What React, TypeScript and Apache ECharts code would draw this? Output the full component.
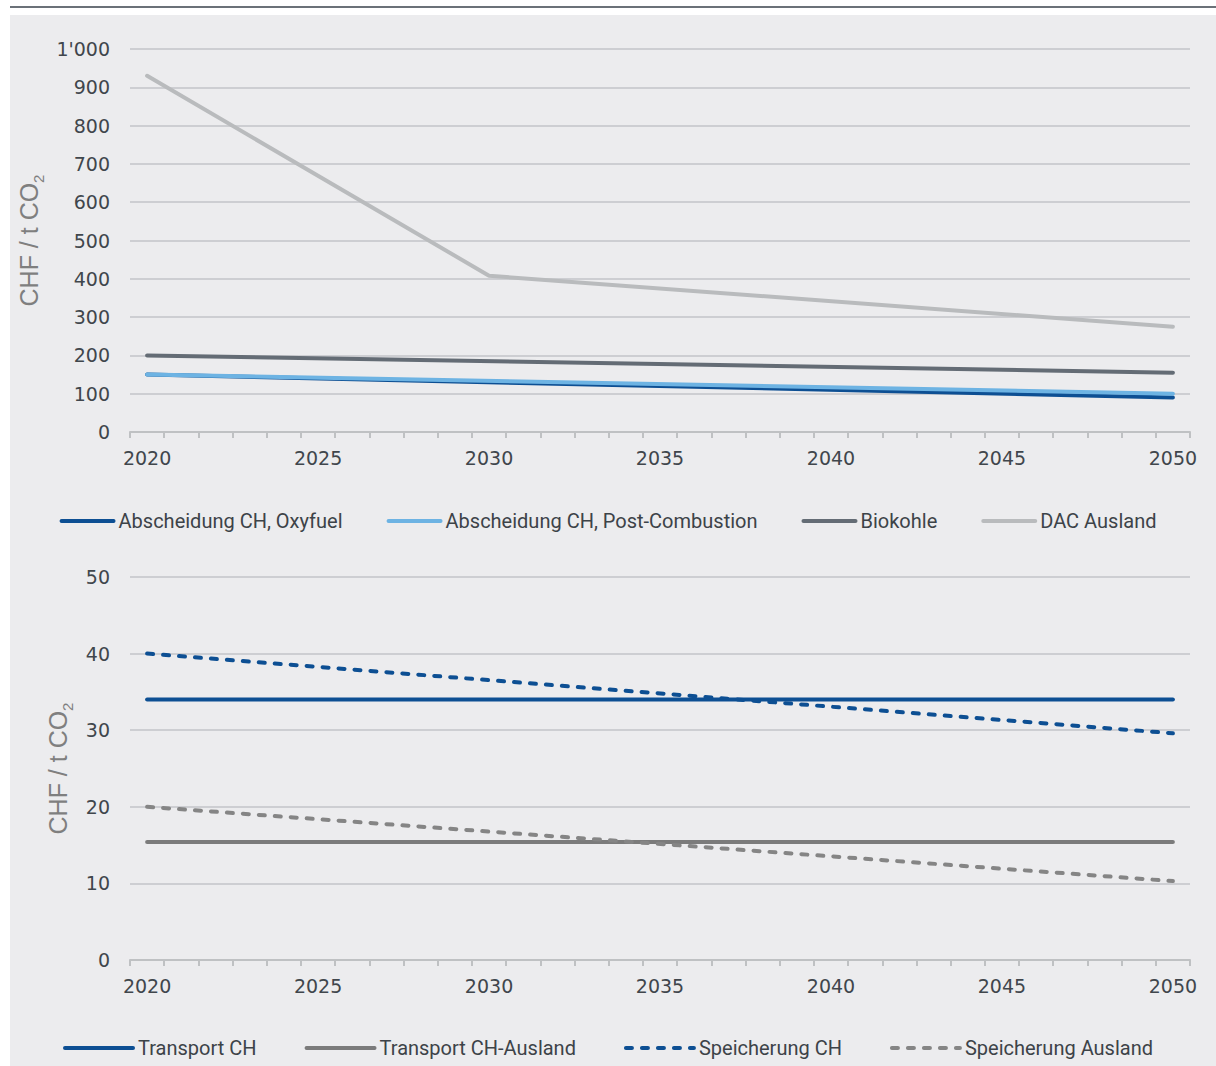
import React, { useEffect, useRef } from "react";
import * as echarts from "echarts";

const years = [
  "2020", "2021", "2022", "2023", "2024", "2025", "2026", "2027", "2028", "2029",
  "2030", "2031", "2032", "2033", "2034", "2035", "2036", "2037", "2038", "2039",
  "2040", "2041", "2042", "2043", "2044", "2045", "2046", "2047", "2048", "2049", "2050",
];

// Top chart (CHF / t CO2)
const oxyfuel: [string, number][] = [["2020", 150], ["2050", 90]];
const postCombustion: [string, number][] = [["2020", 150], ["2050", 100]];
const biokohle: [string, number][] = [["2020", 200], ["2050", 155]];
const dacAusland: [string, number][] = [["2020", 930], ["2030", 408], ["2050", 275]];

// Bottom chart (CHF / t CO2)
const transportCH: [string, number][] = [["2020", 34], ["2050", 34]];
const transportCHAusland: [string, number][] = [["2020", 15.4], ["2050", 15.4]];
const speicherungCH: [string, number][] = [["2020", 40], ["2050", 29.6]];
const speicherungAusland: [string, number][] = [["2020", 20], ["2050", 10.3]];

const topNames = ["Abscheidung CH, Oxyfuel", "Abscheidung CH, Post-Combustion", "Biokohle", "DAC Ausland"];
const bottomNames = ["Transport CH", "Transport CH-Ausland", "Speicherung CH", "Speicherung Ausland"];

const C_DARKBLUE = "#0d4f93";
const C_LIGHTBLUE = "#6db3e3";
const C_DARKGRAY = "#646c75";
const C_LIGHTGRAY = "#b9bbbd";
const C_GRAY = "#7b7b7b";
const C_GRAY_DASH = "#858585";

const TICK_FONT = "'DejaVu Sans', sans-serif";
const LEGEND_FONT = "Roboto, 'Liberation Sans', sans-serif";
const NAME_FONT = "'Liberation Sans', Arial, sans-serif";
const TEXT_COLOR = "#40464c";
const GRID_COLOR = "#c3c5c8";
const AXIS_COLOR = "#bfc1c3";

function xAxisFor(gridIndex: number) {
  return {
    type: "category",
    gridIndex,
    data: years,
    boundaryGap: true,
    axisLine: { show: true, lineStyle: { color: AXIS_COLOR, width: 2 } },
    axisTick: { show: true, interval: 0, length: 6, lineStyle: { color: AXIS_COLOR, width: 2 } },
    axisLabel: { interval: 4, margin: 16, color: TEXT_COLOR, fontFamily: TICK_FONT, fontSize: 19 },
    splitLine: { show: false },
  };
}

function yAxisFor(gridIndex: number, max: number, interval: number, nameGap: number) {
  return {
    type: "value",
    gridIndex,
    min: 0,
    max,
    interval,
    name: "{m|CHF / t CO}{sub|2}",
    nameLocation: "middle",
    nameGap,
    nameTextStyle: {
      rich: {
        m: { fontFamily: NAME_FONT, fontSize: 25, color: "#7f7f7f", lineHeight: 34 },
        sub: { fontFamily: NAME_FONT, fontSize: 15, color: "#7f7f7f", lineHeight: 15, verticalAlign: "bottom" },
      },
    },
    axisLine: { show: false },
    axisTick: { show: false },
    axisLabel: {
      margin: 20,
      color: TEXT_COLOR,
      fontFamily: TICK_FONT,
      fontSize: 19,
      formatter: (v: number) => (v >= 1000 ? `${Math.floor(v / 1000)}'${String(v % 1000).padStart(3, "0")}` : String(v)),
    },
    splitLine: { show: true, lineStyle: { color: GRID_COLOR, width: 1.5 } },
  };
}

function lineSeries(name: string, data: [string, number][], color: string, idx: number, dashed = false) {
  return {
    type: "line",
    name,
    data,
    xAxisIndex: idx,
    yAxisIndex: idx,
    connectNulls: true,
    symbol: "none",
    showSymbol: false,
    lineStyle: {
      color,
      width: 4,
      cap: "round",
      type: dashed ? [6, 10] : "solid",
    },
    itemStyle: { color },
    emphasis: { disabled: true },
  };
}

export default function App() {
  const ref = useRef<HTMLDivElement>(null);

  useEffect(() => {
    document.body.style.margin = "0";
    if (!ref.current) return;
    const chart = echarts.init(ref.current, undefined, { renderer: "svg" });
    const legendText = { fontFamily: LEGEND_FONT, fontSize: 20, color: "#3d4348", lineHeight: 24 };
    const legendCommon = {
      left: "center",
      itemHeight: 14,
      textStyle: legendText,
      selectedMode: false,
      itemStyle: { opacity: 0 },
      lineStyle: { width: 4, cap: "round" },
    };
    chart.setOption({
      animation: false,
      backgroundColor: "transparent",
      grid: [
        { left: 130, right: 26, top: 49, height: 383 },
        { left: 130, right: 26, top: 577, height: 383 },
      ],
      xAxis: [xAxisFor(0), xAxisFor(1)],
      yAxis: [yAxisFor(0, 1000, 100, 77), yAxisFor(1, 50, 10, 50)],
      legend: [
        { ...legendCommon, data: topNames, top: 504, itemWidth: 52, itemGap: 44 },
        { ...legendCommon, data: bottomNames, top: 1031, itemWidth: 68, itemGap: 48 },
      ],
      series: [
        lineSeries(topNames[0], oxyfuel, C_DARKBLUE, 0),
        lineSeries(topNames[1], postCombustion, C_LIGHTBLUE, 0),
        lineSeries(topNames[2], biokohle, C_DARKGRAY, 0),
        lineSeries(topNames[3], dacAusland, C_LIGHTGRAY, 0),
        lineSeries(bottomNames[0], transportCH, C_DARKBLUE, 1),
        lineSeries(bottomNames[1], transportCHAusland, C_GRAY, 1),
        lineSeries(bottomNames[2], speicherungCH, C_DARKBLUE, 1, true),
        lineSeries(bottomNames[3], speicherungAusland, C_GRAY_DASH, 1, true),
      ],
    });
    return () => chart.dispose();
  }, []);

  return (
    <div style={{ position: "relative", width: 1216, height: 1066, background: "#ffffff", overflow: "hidden" }}>
      <div style={{ position: "absolute", left: 10, top: 6, width: 1206, height: 2, background: "#6b7178" }} />
      <div style={{ position: "absolute", left: 10, top: 15, width: 1206, height: 1051, background: "#ececee" }} />
      <div ref={ref} style={{ position: "absolute", left: 0, top: 0, width: 1216, height: 1066 }} />
    </div>
  );
}
